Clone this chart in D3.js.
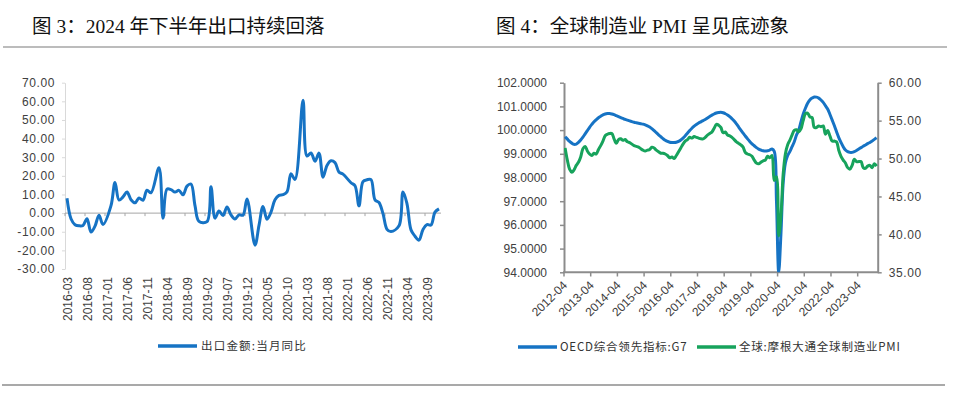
<!DOCTYPE html>
<html>
<head>
<meta charset="utf-8">
<script src="https://cdn.jsdelivr.net/npm/d3@7"></script>
<style>
  body { margin: 0; background: #fff; }
  svg { display: block; }
</style>
</head>
<body>
<script>
// ---------- data ----------
// fig 3: China export value, YoY (%), monthly; January is reported together with February
var exportStart = new Date(2016, 2, 1), exportEnd = new Date(2024, 0, 1);
var exportTicks = ['2016-03','2016-08','2017-01','2017-06','2017-11','2018-04','2018-09','2019-02','2019-07',
  '2019-12','2020-05','2020-10','2021-03','2021-08','2022-01','2022-06','2022-11','2023-04','2023-09'];
var exportYoY = [
  8.0, -3.0, -6.2, -6.8, -6.6, -3.0, -10.2, -7.0, -1.2, -6.1,
  null, 4.0, 16.4, 7.0, 8.7, 11.3, 7.2, 5.5, 8.1, 6.9, 12.3, 10.9,
  null, 24.4, -2.7, 12.9, 12.6, 11.3, 12.2, 9.8, 14.5, 15.6, 4.0, -4.4,
  null, -4.6, 14.2, -2.7, 1.1, -1.3, 3.3, -1.0, -3.2, -0.9, -1.1, 7.6,
  null, -17.2, -6.6, 3.5, -3.3, 0.5, 7.2, 9.5, 9.9, 11.4, 21.1, 18.1,
  null, 60.6, 30.6, 32.3, 27.9, 32.2, 19.3, 25.6, 28.1, 27.1, 22.0, 20.9,
  null, 16.3, 14.7, 3.9, 16.9, 17.9, 18.0, 7.1, 5.7, -0.3, -8.7, -9.9,
  null, -6.8, 11.4, 5.0, -9.0, -12.4, -14.5, -8.8, -6.2, -6.4, 0.5, 2.3
];

// fig 4: OECD CLI G7 (left axis) and JPMorgan global manufacturing PMI (right axis)
var pmiStart = new Date(2012, 3, 1), pmiEnd = new Date(2024, 0, 1);
var pmiTicks = ['2012-04','2013-04','2014-04','2015-04','2016-04','2017-04','2018-04','2019-04',
  '2020-04','2021-04','2022-04','2023-04'];
var oecdG7 = [
  99.72, 99.62, 99.52, 99.45, 99.40, 99.41, 99.48, 99.58, 99.70, 99.84, 99.98, 100.12,
  100.24, 100.35, 100.44, 100.52, 100.58, 100.64, 100.68, 100.70, 100.70, 100.68, 100.65, 100.61,
  100.57, 100.53, 100.49, 100.45, 100.42, 100.39, 100.36, 100.33, 100.31, 100.29, 100.27, 100.25,
  100.22, 100.18, 100.13, 100.06, 99.98, 99.89, 99.80, 99.72, 99.64, 99.57, 99.52, 99.49,
  99.48, 99.48, 99.49, 99.52, 99.58, 99.66, 99.76, 99.87, 99.98, 100.08, 100.17, 100.24,
  100.30, 100.35, 100.40, 100.45, 100.51, 100.57, 100.63, 100.68, 100.72, 100.74, 100.75, 100.73,
  100.69, 100.64, 100.57, 100.48, 100.38, 100.26, 100.13, 100.00, 99.87, 99.75, 99.63, 99.52,
  99.42, 99.34, 99.26, 99.20, 99.16, 99.13, 99.12, 99.13, 99.16, 99.20, 99.10, 97.00,
  94.00, 95.60, 97.75, 98.60, 98.92, 99.09, 99.30, 99.51, 99.79, 100.00, 100.35, 100.67,
  100.92, 101.13, 101.27, 101.35, 101.40, 101.39, 101.35, 101.27, 101.17, 101.03, 100.89, 100.67,
  100.43, 100.19, 99.93, 99.68, 99.48, 99.30, 99.16, 99.09, 99.06, 99.06, 99.09, 99.14,
  99.20, 99.26, 99.32, 99.37, 99.43, 99.48, 99.54, 99.61, 99.68
];
var jpmPMI = [
  51.4, 49.8, 48.6, 48.2, 48.5, 49.1, 49.5, 50.2, 51.3, 51.6, 51.0, 50.6,
  50.4, 50.7, 50.6, 51.2, 51.7, 52.3, 53.0, 53.2, 53.3, 53.3, 52.6, 52.0,
  52.5, 52.6, 52.4, 52.5, 52.2, 52.1, 51.9, 51.7, 51.6, 51.5, 51.3, 51.1,
  51.0, 51.1, 51.2, 51.5, 51.4, 51.1, 50.9, 50.7, 50.7, 50.6, 50.4, 50.1,
  50.2, 50.0, 50.4, 50.9, 51.4, 51.9, 52.3, 52.5, 52.8, 52.7, 52.9, 52.8,
  52.7, 52.6, 52.6, 52.8, 53.1, 53.3, 53.5, 54.0, 54.5, 54.4, 54.1, 53.4,
  53.5, 53.1, 53.0, 52.8, 52.5, 52.2, 52.0, 51.8, 51.5, 50.8, 50.6, 50.5,
  50.3, 49.8, 49.4, 49.3, 49.5, 49.7, 49.8, 50.3, 50.1, 50.4, 47.1, 47.6,
  39.8, 42.4, 47.9, 50.6, 51.8, 52.4, 53.1, 53.7, 53.8, 53.5, 53.9, 55.0,
  55.9, 56.0, 55.5, 55.4, 54.1, 54.1, 54.3, 54.2, 54.3, 53.2, 53.7, 53.0,
  52.3, 52.3, 52.2, 51.1, 50.3, 49.8, 49.4, 48.8, 48.6, 49.1, 49.9, 49.6,
  49.6, 49.6, 48.8, 48.7, 49.0, 49.1, 48.8, 49.3, 49.0
];

var fmtMonth = d3.timeFormat('%Y-%m');
var exportMonths = d3.timeMonth.range(exportStart, exportEnd).map(fmtMonth);
var pmiMonths = d3.timeMonth.range(pmiStart, pmiEnd).map(fmtMonth);

var blue = '#1673c4', green = '#17a35c';
var tickFont = '12px "Liberation Sans", Arial, sans-serif';
var cjkFont = '"Noto Sans CJK SC", sans-serif';

var svg = d3.select('body')
  .append('svg')
  .attr('width', 960)
  .attr('height', 401);

// ---------- titles and rules ----------
svg.append('text')
  .attr('x', 32).attr('y', 33)
  .style('font-family', '"Liberation Serif", "Noto Sans CJK SC", serif')
  .style('font-size', '19.5px')
  .attr('fill', '#111')
  .text('图 3：2024 年下半年出口持续回落');

svg.append('text')
  .attr('x', 496).attr('y', 33)
  .style('font-family', '"Liberation Serif", "Noto Sans CJK SC", serif')
  .style('font-size', '19.5px')
  .attr('fill', '#111')
  .text('图 4：全球制造业 PMI 呈见底迹象');

svg.append('line')
  .attr('x1', 3).attr('x2', 947).attr('y1', 47).attr('y2', 47)
  .attr('stroke', '#a6a6a6').attr('stroke-width', 1.5);

svg.append('line')
  .attr('x1', 2).attr('x2', 945).attr('y1', 385).attr('y2', 385)
  .attr('stroke', '#8c8c8c').attr('stroke-width', 1.5);

// ---------- left chart: exports ----------
var x1 = d3.scaleBand().domain(exportMonths).range([65, 441]);
var y1 = d3.scaleLinear().domain([-30, 70]).range([269, 82.7]);

var y1Axis = svg.append('g')
  .attr('transform', 'translate(65,0)')
  .call(d3.axisLeft(y1)
    .tickValues(d3.range(-30, 71, 10))
    .tickFormat(function(d) { return d3.format('.2f')(d).replace('−', '-'); })
    .tickSize(3)
    .tickSizeOuter(0)
    .tickPadding(7));
y1Axis.select('.domain').attr('stroke', '#d9d9d9');
y1Axis.selectAll('.tick line').attr('stroke', '#d9d9d9');
y1Axis.selectAll('text').attr('fill', '#404040').style('font', tickFont)
  .style('letter-spacing', '0.6px');

// zero line with category ticks
var x1Axis = svg.append('g');
x1Axis.append('line')
  .attr('x1', x1.range()[0]).attr('x2', x1.range()[1])
  .attr('y1', y1(0)).attr('y2', y1(0))
  .attr('stroke', '#a6a6a6');
x1Axis.selectAll('.tk')
  .data(exportTicks)
  .enter()
  .append('line')
  .attr('x1', function(d) { return x1(d); })
  .attr('x2', function(d) { return x1(d); })
  .attr('y1', y1(0)).attr('y2', y1(0) + 3)
  .attr('stroke', '#a6a6a6');
x1Axis.selectAll('text')
  .data(exportTicks)
  .enter()
  .append('text')
  .attr('transform', function(d) {
    return 'translate(' + (x1(d) + x1.bandwidth() / 2 + 1) + ',277) rotate(-90)';
  })
  .attr('text-anchor', 'end')
  .attr('dy', '0.35em')
  .attr('fill', '#404040')
  .style('font', tickFont)
  .text(function(d) { return d; });

var exportPts = exportMonths
  .map(function(m, i) { return { m: m, v: exportYoY[i] }; })
  .filter(function(d) { return d.v !== null; });

svg.append('path')
  .datum(exportPts)
  .attr('fill', 'none')
  .attr('stroke', blue)
  .attr('stroke-width', 3)
  .attr('stroke-linejoin', 'round')
  .attr('d', d3.line()
    .x(function(d) { return x1(d.m) + x1.bandwidth() / 2; })
    .y(function(d) { return y1(d.v); })
    .curve(d3.curveCatmullRom));

// legend
svg.append('line')
  .attr('x1', 158).attr('x2', 197).attr('y1', 346).attr('y2', 346)
  .attr('stroke', blue).attr('stroke-width', 3.5);
svg.append('text')
  .attr('x', 201).attr('y', 350)
  .style('font-family', cjkFont).style('font-size', '11.5px')
  .style('letter-spacing', '1.2px')
  .attr('fill', '#333')
  .text('出口金额:当月同比');

// ---------- right chart: CLI and PMI ----------
var x2 = d3.scaleBand().domain(pmiMonths).range([564, 877.7]);
var y2L = d3.scaleLinear().domain([94, 102]).range([272.3, 82.7]);
var y2R = d3.scaleLinear().domain([35, 60]).range([272.3, 82.7]);
var axisGrey = '#8c8c8c';

var y2LAxis = svg.append('g')
  .attr('transform', 'translate(564,0)')
  .call(d3.axisLeft(y2L)
    .tickValues(d3.range(94, 102.1, 1))
    .tickFormat(d3.format('.4f'))
    .tickSize(4)
    .tickSizeOuter(0)
    .tickPadding(13));

var y2RAxis = svg.append('g')
  .attr('transform', 'translate(877.7,0)')
  .call(d3.axisRight(y2R)
    .tickValues(d3.range(35, 60.1, 5))
    .tickFormat(d3.format('.2f'))
    .tickSize(4)
    .tickSizeOuter(0)
    .tickPadding(7));

[y2LAxis, y2RAxis].forEach(function(g) {
  g.select('.domain').attr('stroke', axisGrey).attr('stroke-width', 2);
  g.selectAll('.tick line').attr('stroke', axisGrey).attr('stroke-width', 1.5);
  g.selectAll('text').attr('fill', '#404040').style('font', tickFont);
});
y2RAxis.selectAll('text').style('letter-spacing', '0.6px');

var x2Axis = svg.append('g');
x2Axis.append('line')
  .attr('x1', x2.range()[0] - 1).attr('x2', x2.range()[1] + 1)
  .attr('y1', 272.3).attr('y2', 272.3)
  .attr('stroke', axisGrey).attr('stroke-width', 2);
x2Axis.selectAll('.tk')
  .data(pmiTicks)
  .enter()
  .append('line')
  .attr('x1', function(d) { return x2(d); })
  .attr('x2', function(d) { return x2(d); })
  .attr('y1', 272.3).attr('y2', 276.5)
  .attr('stroke', axisGrey).attr('stroke-width', 1.5);
x2Axis.selectAll('text')
  .data(pmiTicks)
  .enter()
  .append('text')
  .attr('transform', function(d) {
    return 'translate(' + (x2(d) + 1) + ',283) rotate(-45)';
  })
  .attr('text-anchor', 'end')
  .attr('dy', '0.35em')
  .attr('fill', '#404040')
  .style('font', tickFont)
  .text(function(d) { return d; });

svg.append('clipPath')
  .attr('id', 'clip2')
  .append('rect')
  .attr('x', 564).attr('y', 75).attr('width', 314).attr('height', 197.3);

var plot2 = svg.append('g').attr('clip-path', 'url(#clip2)');
var cx2 = function(d, i) { return x2(pmiMonths[i]) + x2.bandwidth() / 2; };

plot2.append('path')
  .datum(oecdG7)
  .attr('fill', 'none')
  .attr('stroke', blue)
  .attr('stroke-width', 3)
  .attr('stroke-linejoin', 'round')
  .attr('d', d3.line()
    .x(cx2)
    .y(function(d) { return y2L(d); })
    .curve(d3.curveCatmullRom));

plot2.append('path')
  .datum(jpmPMI)
  .attr('fill', 'none')
  .attr('stroke', green)
  .attr('stroke-width', 3)
  .attr('stroke-linejoin', 'round')
  .attr('d', d3.line()
    .x(cx2)
    .y(function(d) { return y2R(d); })
    .curve(d3.curveCatmullRom));

// legend
var legend2 = [
  { name: 'OECD综合领先指标:G7', color: blue, x: 518 },
  { name: '全球:摩根大通全球制造业PMI', color: green, x: 697 }
];
legend2.forEach(function(l) {
  svg.append('line')
    .attr('x1', l.x).attr('x2', l.x + 39).attr('y1', 347).attr('y2', 347)
    .attr('stroke', l.color).attr('stroke-width', 3.5);
  svg.append('text')
    .attr('x', l.x + 42).attr('y', 351)
    .style('font-family', cjkFont).style('font-size', '11.5px')
    .style('letter-spacing', '0.8px')
    .attr('fill', '#333')
    .text(l.name);
});
</script>
</body>
</html>
